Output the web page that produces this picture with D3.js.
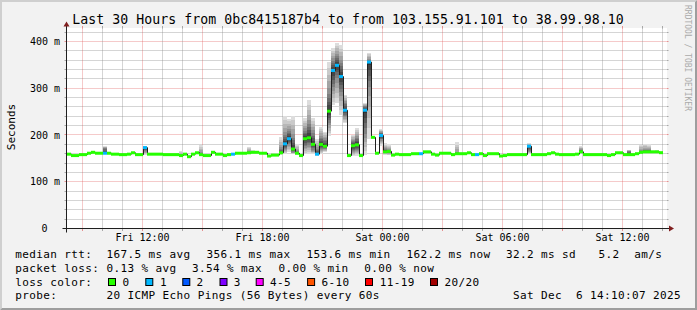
<!DOCTYPE html>
<html><head><meta charset="utf-8">
<script src="https://cdn.jsdelivr.net/npm/d3@7"></script>
<style>
html,body{margin:0;padding:0;background:#f2f2f2}
svg{display:block}
text{font-family:"DejaVu Sans Mono",monospace;white-space:pre}
</style></head><body>
<svg id="c" width="697" height="310"></svg>
<script>
// ---------- data ----------
const title = "Last 30 Hours from 0bc8415187b4 to from 103.155.91.101 to 38.99.98.10";
const yAxisTitle = "Seconds";
const watermark = "RRDTOOL / TOBI OETIKER";
const startTime = Date.UTC(2025, 11, 5, 8, 12);   // Fri 08:12
const endTime   = Date.UTC(2025, 11, 6, 14, 12);  // Sat 14:12
const stepMinutes = 12;
const yMax = 427.8; // ms at top of canvas
const yTicks = [0, 100, 200, 300, 400];
const yTickLabels = ["0", "100 m", "200 m", "300 m", "400 m"];

// median RTT per 12-minute step (ms)
const median = [
  159,156,156,158,158,161,163,161,161,161,
  161,159,159,158,158,159,162,158,158,173,
  159,159,159,159,158,158,158,158,156,159,
  153.6,159,162,158,156,156,163,159,159,156,
  158,159,161,161,161,162,163,163,161,161,
  155,157,157,162,181,192,170,161,156,192,
  194,180,159,180,176,251,338,349,325,253,
  156,177,179,156,253,356,195,161,199,164,
  165,157,159,158,158,158,160,160,160,164,
  164,159,157,161,161,161,158,160,160,160,
  162,158,158,160,156,160,160,160,155,156,
  158,158,158,158,158,176,158,158,158,158,
  160,162,159,158,158,158,158,159,164,158,
  158,158,158,158,158,156,158,162,162,158,
  158,158,160,163,164,164,164,164,162.2
];
// lost pings (of 20) per step
const loss = [
  0,0,0,0,0,0,0,0,0,1,
  0,0,0,0,0,0,0,0,0,1,
  0,0,0,0,0,0,0,0,0,0,
  0,0,0,0,0,0,0,0,0,0,
  0,1,0,0,0,0,0,0,0,0,
  0,0,0,0,1,1,0,0,0,0,
  0,0,1,0,0,0,1,1,1,1,
  0,0,0,0,1,1,0,0,1,0,
  0,0,0,0,0,0,0,0,1,0,
  0,0,0,0,0,0,0,0,0,0,
  0,0,1,0,0,0,0,0,0,0,
  0,0,0,0,0,1,0,0,0,0,
  0,0,0,0,0,0,0,0,0,0,
  0,0,0,0,0,0,0,0,0,0,
  0,0,0,0,0,0,0,0,0
];
// smoke: [step, min, lower quartile, upper quartile, max] in ms (only visible columns)
const smoke = [
  [9,159,160,172,176],[19,158,165,174,176],[28,155,156,157,166],[33,157,158,160,179],
  [45,160,161,164,174],[46,162,163,164,167],[53,158,160,170,195],[54,160,170,200,241],
  [55,164,180,210,234],[56,159,163,195,241],[57,158,160,165,180],[59,159,175,210,236],
  [60,160,178,225,275],[61,159,168,205,236],[62,156,158,170,191],[63,160,170,195,218],
  [64,164,170,190,207],[65,198,225,290,357],[66,264,300,360,386],[67,268,320,370,396],
  [68,243,290,355,393],[69,225,240,270,286],[71,156,165,188,200],[72,156,168,195,214],
  [74,157,200,262,268],[75,191,300,360,376],[78,177,190,205,212],[79,158,162,170,182],
  [80,157,162,168,180],[97,159,160,161,184],[115,160,165,178,182],[128,162,163,168,177],
  [140,158,160,166,168],[143,162,163,166,179],[144,163,164,168,181],[145,163,164,168,180],
  [147,163,164,165,167]
];
const pings = 20;
const lossBins = [
  {max:0, label:"0", color:"#26ff00"}, {max:1, label:"1", color:"#00b8ff"},
  {max:2, label:"2", color:"#0059ff"}, {max:3, label:"3", color:"#7e00ff"},
  {max:5, label:"4-5", color:"#ff00ff"}, {max:10, label:"6-10", color:"#ff5500"},
  {max:19, label:"11-19", color:"#ff0000"}, {max:20, label:"20/20", color:"#a10000"}
];
const rttStats = ["167.5 ms avg","356.1 ms max","153.6 ms min","162.2 ms now","32.2 ms sd","5.2","am/s"];
const lossStats = ["0.13 % avg","3.54 % max","0.00 % min","0.00 % now"];
const probeText = "20 ICMP Echo Pings (56 Bytes) every 60s";
const dateText = "Sat Dec  6 14:10:07 2025";

// ---------- layout ----------
const W = 697, H = 310;
const X0 = 66.5, X1 = 666.5, Y0 = 228.5, Y1 = 28.5;
const svg = d3.select("#c");
const x = d3.scaleUtc().domain([startTime, endTime]).range([X0, X1]);
const y = d3.scaleLinear().domain([0, yMax]).range([Y0, Y1]);
const stepMs = stepMinutes * 60000;
const tAt = k => startTime + k * stepMs;

// background + 3D border
svg.append("rect").attr("width", W).attr("height", H).attr("fill", "#f2f2f2");
svg.append("path").attr("d", `M0,0 L0,${H} L2,${H-2} L2,2 L${W-2},2 L${W},0 Z`).attr("fill", "#cfcfcf");
svg.append("path").attr("d", `M2,${H-2} L${W-2},${H-2} L${W-2},2 L${W},0 L${W},${H} L0,${H} Z`).attr("fill", "#9e9e9e");
// canvas
svg.append("rect").attr("x", X0 + 0.5).attr("y", Y1 - 0.5).attr("width", X1 - X0).attr("height", Y0 - Y1 + 0.5).attr("fill", "#ffffff");

const minorCol = "rgba(143,143,143,0.75)", majorCol = "rgba(222,79,79,0.6)";
const g = svg.append("g");

// horizontal grid
const hMinor = d3.range(20, yMax, 20).filter(v => v % 100 !== 0);
const hMajor = d3.range(100, yMax, 100);
function hLine(v, col) {
  const yy = Math.round(y(v) - 0.5) + 0.5;
  g.append("line").attr("x1", X0).attr("x2", X1).attr("y1", yy).attr("y2", yy)
    .attr("stroke", col).attr("stroke-dasharray", "1,1");
  g.append("line").attr("x1", X0 - 2).attr("x2", X0).attr("y1", yy).attr("y2", yy).attr("stroke", col);
  g.append("line").attr("x1", X1).attr("x2", X1 + 2).attr("y1", yy).attr("y2", yy).attr("stroke", col);
}
hMinor.forEach(v => hLine(v, minorCol));
hMajor.forEach(v => hLine(v, majorCol));

// vertical grid
const hours = d3.utcHour.range(new Date(startTime), new Date(endTime));
function vLine(t, col) {
  const xx = Math.round(x(t) - 0.5) + 0.5;
  g.append("line").attr("x1", xx).attr("x2", xx).attr("y1", Y1).attr("y2", Y0)
    .attr("stroke", col).attr("stroke-dasharray", "1,1");
  g.append("line").attr("x1", xx).attr("x2", xx).attr("y1", Y0).attr("y2", Y0 + 2.5).attr("stroke", col);
  g.append("line").attr("x1", xx).attr("x2", xx).attr("y1", Y1 - 2.5).attr("y2", Y1).attr("stroke", col);
}
hours.filter(t => t.getUTCHours() % 3 !== 0).forEach(t => vLine(t, minorCol));
hours.filter(t => t.getUTCHours() % 3 === 0).forEach(t => vLine(t, majorCol));

// smoke
const sg = svg.append("g").attr("shape-rendering", "crispEdges");
const half = pings / 2;
smoke.forEach(([k, mn, q1, q3, mx]) => {
  const knots = d3.scaleLinear().domain([1, 5.75, 10.5, 15.25, 20]).range([mn, q1, median[k], q3, mx]);
  const x0 = x(tAt(k)) + 0.5, x1 = x(tAt(k + 1)) + 0.5;
  for (let i = 1; i <= half; i++) {
    const lo = knots(i), hi = knots(pings + 1 - i);
    const c = Math.floor(190 / half * (half - i)) + 50;
    sg.append("rect").attr("x", x0).attr("width", x1 - x0)
      .attr("y", y(hi)).attr("height", Math.max(0, y(lo) - y(hi)))
      .attr("fill", d3.rgb(c, c, c));
  }
});

// median black step line
const pts = median.map((m, k) => [x(tAt(k)) + 1, y(m)]);
pts.push([x(tAt(median.length)) + 0.5, y(median[median.length - 1])]);
svg.append("path").attr("d", d3.line().curve(d3.curveStepAfter)(pts))
  .attr("fill", "none").attr("stroke", "#202020").attr("stroke-width", 1);

// loss-coloured median bars
const binFor = l => lossBins.find(b => l <= b.max);
svg.append("g").selectAll("rect").data(median).join("rect")
  .attr("x", (m, k) => x(tAt(k)) + 0.5)
  .attr("width", (m, k) => x(tAt(k + 1)) - x(tAt(k)))
  .attr("y", m => y(m) - 1.5).attr("height", 3)
  .attr("fill", (m, k) => binFor(loss[k]).color);

// axes
const axisCol = "#1f1f1f", arrowCol = "#801f1f";
svg.append("line").attr("x1", X0 - 4).attr("x2", X1 + 4).attr("y1", Y0).attr("y2", Y0).attr("stroke", axisCol);
svg.append("line").attr("x1", X0).attr("x2", X0).attr("y1", Y0 + 4).attr("y2", Y1 - 4).attr("stroke", axisCol);
svg.append("path").attr("d", `M${X1+2.5},${Y0-3} L${X1+2.5},${Y0+3} L${X1+7.5},${Y0} Z`).attr("fill", arrowCol);
svg.append("path").attr("d", `M${X0-3},${Y1-2} L${X0+3},${Y1-2} L${X0},${Y1-7} Z`).attr("fill", arrowCol);

// y tick labels
svg.append("g").selectAll("text").data(yTicks).join("text")
  .attr("x", v => v === 0 ? 47.5 : 60).attr("y", v => y(v) + 3.6)
  .attr("text-anchor", "end").attr("font-size", 10).attr("fill", "#000")
  .text((v, i) => yTickLabels[i]);

// x tick labels
const fmt = d3.utcFormat("%a %H:%M");
const labelTimes = hours.filter(t => t.getUTCHours() % 6 === 0);
svg.append("g").selectAll("text").data(labelTimes).join("text")
  .attr("x", t => x(t)).attr("y", 241).attr("text-anchor", "middle")
  .attr("font-size", 10).attr("fill", "#000").text(t => fmt(t));

// title
svg.append("text").attr("x", 348).attr("y", 24).attr("text-anchor", "middle")
  .attr("font-size", 13.2).attr("letter-spacing", "0.05px").attr("fill", "#000").text(title);
// y axis title
svg.append("text").attr("transform", "translate(15,127) rotate(-90)").attr("text-anchor", "middle")
  .attr("font-size", 11).attr("fill", "#000").text(yAxisTitle);
// watermark
svg.append("text").attr("transform", "translate(685,5) rotate(90)")
  .attr("font-size", 8).attr("fill", "#aaaaaa").text(watermark);

// legend
const L = svg.append("g").attr("font-size", 11).attr("fill", "#000").attr("letter-spacing", "0.38px");
function lt(xx, yy, s, anchor) {
  L.append("text").attr("x", xx).attr("y", yy).attr("text-anchor", anchor || "start")
    .attr("xml:space", "preserve").text(s);
}
const rowY = [258, 271.8, 285.5, 299.3];
lt(15.3, rowY[0], "median rtt:");
const rttX = [106.6, 206.6, 306.6, 406.6, 506, 598.6, 634.3];
rttStats.forEach((s, i) => lt(rttX[i], rowY[0], s));
lt(15.3, rowY[1], "packet loss:");
const lossX = [106.6, 192, 278.6, 364.3];
lossStats.forEach((s, i) => lt(lossX[i], rowY[1], s));
lt(15.3, rowY[2], "loss color:");
const boxX = [108.5, 145.8, 182.8, 220, 256.2, 307.6, 365.5, 430.5];
const boxLabelX = [122.4, 160, 196.6, 233.8, 270, 321.6, 379.8, 444.6];
lossBins.forEach((b, i) => {
  L.append("rect").attr("x", boxX[i]).attr("y", 278.5).attr("width", 7).attr("height", 7)
    .attr("fill", b.color).attr("stroke", "#000").attr("stroke-width", 1);
  lt(boxLabelX[i], rowY[2], b.label);
});
lt(15.3, rowY[3], "probe:");
lt(106.6, rowY[3], probeText);
lt(681, rowY[3], dateText, "end");
</script>
</body></html>
